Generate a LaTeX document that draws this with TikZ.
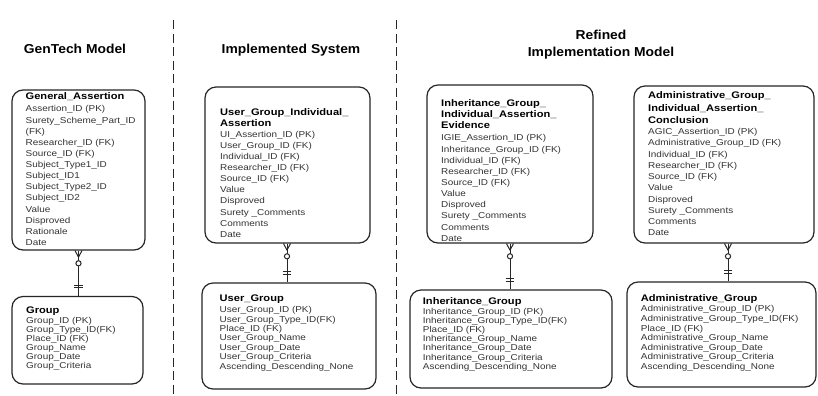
\documentclass[tikz,border=0pt]{standalone}
\usepackage{fontspec}
\setmainfont{Liberation Sans}
\newfontfamily\erfont[FakeStretch=1.16]{Liberation Sans}
\newfontfamily\headfont[FakeStretch=1.07]{Liberation Sans}
\usetikzlibrary{calc,fit}
\newcommand{\entt}[1]{{\fontsize{9.6}{9.6}\selectfont\bfseries\color{black}#1}}
\newcommand{\erlink}[3]{%
  \coordinate (#1-lt) at (#1.south -| #3);
  \coordinate (#2-lb) at (#2.north -| #3);
  \draw[link] (#1-lt) -- (#2-lb);
  \draw[link] ($(#1-lt)+(-3.5,0)$) -- ($(#1-lt)+(0,6.5)$) -- ($(#1-lt)+(3.5,0)$);
  \draw[link,fill=white] ($(#1-lt)+(0,12.7)$) circle (2.6);
  \draw[link] ($(#2-lb)+(-4.2,-10.5)$) -- ($(#2-lb)+(4.2,-10.5)$)
              ($(#2-lb)+(-4.2,-8)$) -- ($(#2-lb)+(4.2,-8)$);
}
\tikzset{
  entity/.style={draw=black!85, line width=1.2bp, rounded corners=11bp, inner sep=0pt},
  fields/.style={inner sep=0pt, anchor=base west, text=black!80,
                 font=\erfont\fontsize{8.6}{#1}\selectfont},
  head/.style={inner sep=0pt, anchor=base, font=\headfont\bfseries\fontsize{13}{16.7}\selectfont},
  divider/.style={draw=black!85, line width=1.4bp, dash pattern=on 9bp off 4.5bp},
  link/.style={draw=black!85, line width=1bp},
}
\begin{document}
\begin{tikzpicture}[x=1bp,y=-1bp]
\useasboundingbox[fill=white] (0,0) rectangle (818,395);

% column headings
\node[head] (h1) at (75,53) {GenTech Model};
\node[head] (h2) at (291,53) {Implemented System};
\node[head] (h3) at (601,39.7) {\begin{tabular}[t]{@{}c@{}}Refined\\Implementation Model\end{tabular}};

% dividers
\coordinate (d1a) at (173.5,20); \coordinate (d1b) at (173.5,395);
\coordinate (d2a) at (396.7,20); \coordinate (d2b) at (396.7,395);
\draw[divider] (d1a) -- (d1b);
\draw[divider] (d2a) -- (d2b);

% entity boxes
\node[entity, fit={(12,90) (145,250)}] (ga) {};
\node[entity, fit={(12,296.5) (143,384)}] (grp) {};
\node[entity, fit={(205,87) (370,243)}] (ugia) {};
\node[entity, fit={(202,283) (376,389)}] (ug) {};
\node[entity, fit={(427,85) (593,243)}] (igiae) {};
\node[entity, fit={(410,290) (612,388)}] (ig) {};
\node[entity, fit={(634,86) (814,243)}] (agiac) {};
\node[entity, fit={(627,282) (816,387)}] (ag) {};

% entity texts
\node[fields=11.17] (ga-t) at (25.5,99.4) {\begin{tabular}[t]{@{}l@{}}
\entt{General\_Assertion}\\[1.4pt]
Assertion\_ID (PK)\\
Surety\_Scheme\_Part\_ID\\
(FK)\\
Researcher\_ID (FK)\\
Source\_ID (FK)\\
Subject\_Type1\_ID\\
Subject\_ID1\\
Subject\_Type2\_ID\\
Subject\_ID2\\
Value\\
Disproved\\
Rationale\\
Date\end{tabular}};

\node[fields=8.94] (grp-t) at (26,313) {\begin{tabular}[t]{@{}l@{}}
\entt{Group}\\[1.8pt]
Group\_ID (PK)\\
Group\_Type\_ID(FK)\\
Place\_ID (FK)\\
Group\_Name\\
Group\_Date\\
Group\_Criteria\end{tabular}};

\node[fields=11.1] (ugia-t) at (220,115.5) {\begin{tabular}[t]{@{}l@{}}
\entt{User\_Group\_Individual\_}\\
\entt{Assertion}\\
UI\_Assertion\_ID (PK)\\
User\_Group\_ID (FK)\\
Individual\_ID (FK)\\
Researcher\_ID (FK)\\
Source\_ID (FK)\\
Value\\
Disproved\\
Surety \_Comments\\
Comments\\
Date\end{tabular}};

\node[fields=9.45] (ug-t) at (219.5,301.3) {\begin{tabular}[t]{@{}l@{}}
\entt{User\_Group}\\[1.95pt]
User\_Group\_ID (PK)\\
User\_Group\_Type\_ID(FK)\\
Place\_ID (FK)\\
User\_Group\_Name\\
User\_Group\_Date\\
User\_Group\_Criteria\\
Ascending\_Descending\_None\end{tabular}};

\node[fields=11.2] (igiae-t) at (441,106) {\begin{tabular}[t]{@{}l@{}}
\entt{Inheritance\_Group\_}\\
\entt{Individual\_Assertion\_}\\
\entt{Evidence}\\[1.4pt]
IGIE\_Assertion\_ID (PK)\\
Inheritance\_Group\_ID (FK)\\
Individual\_ID (FK)\\
Researcher\_ID (FK)\\
Source\_ID (FK)\\
Value\\
Disproved\\
Surety \_Comments\\
Comments\\
Date\end{tabular}};

\node[fields=9.17] (ig-t) at (422.7,304.7) {\begin{tabular}[t]{@{}l@{}}
\entt{Inheritance\_Group}\\[0.5pt]
Inheritance\_Group\_ID (PK)\\
Inheritance\_Group\_Type\_ID(FK)\\
Place\_ID (FK)\\
Inheritance\_Group\_Name\\
Inheritance\_Group\_Date\\
Inheritance\_Group\_Criteria\\
Ascending\_Descending\_None\end{tabular}};

\node[fields=11.26] (agiac-t) at (648,98.5) {\begin{tabular}[t]{@{}l@{}}
\entt{Administrative\_Group\_}\\[1.3pt]
\entt{Individual\_Assertion\_}\\[1.3pt]
\entt{Conclusion}\\
AGIC\_Assertion\_ID (PK)\\
Administrative\_Group\_ID (FK)\\
Individual\_ID (FK)\\
Researcher\_ID (FK)\\
Source\_ID (FK)\\
Value\\
Disproved\\
Surety \_Comments\\
Comments\\
Date\end{tabular}};

\node[fields=9.57] (ag-t) at (640.7,301.3) {\begin{tabular}[t]{@{}l@{}}
\entt{Administrative\_Group}\\[1.1pt]
Administrative\_Group\_ID (PK)\\
Administrative\_Group\_Type\_ID(FK)\\
Place\_ID (FK)\\
Administrative\_Group\_Name\\
Administrative\_Group\_Date\\
Administrative\_Group\_Criteria\\
Ascending\_Descending\_None\end{tabular}};

% relationships
\coordinate (c1) at (78.5,0);
\coordinate (c2) at (287,0);
\coordinate (c3) at (510,0);
\coordinate (c4) at (728,0);
\erlink{ga}{grp}{c1}
\erlink{ugia}{ug}{c2}
\erlink{igiae}{ig}{c3}
\erlink{agiac}{ag}{c4}
\end{tikzpicture}
\end{document}
